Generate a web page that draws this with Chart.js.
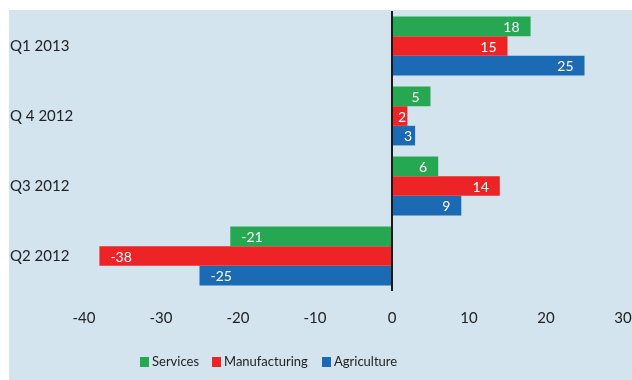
<!DOCTYPE html>
<html>
<head>
<meta charset="utf-8">
<script src="https://cdn.jsdelivr.net/npm/chart.js@4"></script>
<style>
html,body{margin:0;padding:0;background:#fff;}
#wrap{width:632px;height:380px;position:relative;}
</style>
</head>
<body>
<div id="wrap"><canvas id="c" width="632" height="380"></canvas></div>
<script>
const categories = ["Q1 2013", "Q 4 2012", "Q3 2012", "Q2 2012"];
const seriesNames = ["Services", "Manufacturing", "Agriculture"];
const services = [18, 5, 6, -21];
const manufacturing = [15, 2, 14, -38];
const agriculture = [25, 3, 9, -25];
const xTicks = [-40, -30, -20, -10, 0, 10, 20, 30];
const colors = ["#26a852", "#ee2326", "#1b6ab3"];

const FONT = "Lato, 'Open Sans', sans-serif";

const bgPlugin = {
  id: 'bg',
  beforeDraw(chart) {
    const ctx = chart.ctx;
    ctx.save();
    ctx.fillStyle = '#ffffff';
    ctx.fillRect(0, 0, chart.width, chart.height);
    ctx.fillStyle = '#d3e4ee';
    ctx.fillRect(9, 10, chart.width - 9, chart.height - 10);
    ctx.restore();
  }
};

const labelPlugin = {
  id: 'barLabels',
  afterDatasetsDraw(chart) {
    const ctx = chart.ctx;
    ctx.save();
    ctx.font = "14px " + FONT;
    ctx.fillStyle = '#ffffff';
    ctx.textBaseline = 'middle';
    chart.data.datasets.forEach((ds, di) => {
      const meta = chart.getDatasetMeta(di);
      meta.data.forEach((bar, i) => {
        const v = ds.data[i];
        const txt = String(v);
        const w = ctx.measureText(txt).width;
        const len = Math.abs(bar.x - bar.base);
        let left;
        if (v >= 0) {
          let right = bar.x - 11;
          if (len < w + 22) right = bar.x - 3;
          left = Math.max(right - w, bar.base + 5);
        } else {
          left = bar.x + 11;
        }
        ctx.textAlign = 'left';
        ctx.fillText(txt, left, bar.y + 1);
      });
    });
    ctx.restore();
  }
};

const legendPlugin = {
  id: 'customLegend',
  afterDraw(chart) {
    const ctx = chart.ctx;
    ctx.save();
    ctx.font = "13px " + FONT;
    ctx.textBaseline = 'middle';
    ctx.textAlign = 'left';
    const box = 9, gapBox = 3;
    const starts = [140, 212, 322];
    const y = 362;
    chart.data.datasets.forEach((d, i) => {
      const x = starts[i];
      ctx.fillStyle = d.backgroundColor;
      ctx.fillRect(x, y - 5, box, box + 1);
      ctx.fillStyle = '#222222';
      ctx.fillText(d.label, x + box + gapBox, y);
    });
    ctx.restore();
  }
};

new Chart(document.getElementById('c'), {
  type: 'bar',
  data: {
    labels: categories,
    datasets: [
      { label: seriesNames[0], data: services, backgroundColor: colors[0] },
      { label: seriesNames[1], data: manufacturing, backgroundColor: colors[1] },
      { label: seriesNames[2], data: agriculture, backgroundColor: colors[2] }
    ]
  },
  options: {
    indexAxis: 'y',
    responsive: false,
    animation: false,
    devicePixelRatio: 1,
    categoryPercentage: 0.84,
    barPercentage: 1.0,
    layout: { padding: { left: 10, top: 11, right: 9, bottom: 0 } },
    plugins: {
      legend: { display: false },
      tooltip: { enabled: false }
    },
    scales: {
      x: {
        min: -40, max: 30,
        afterBuildTicks(scale) { scale.ticks = xTicks.map(v => ({ value: v })); },
        border: { display: false },
        grid: {
          drawTicks: false,
          lineWidth: 2,
          color: ctx => (ctx.tick && ctx.tick.value === 0) ? '#1a1a1a' : 'rgba(0,0,0,0)'
        },
        ticks: { font: { size: 15, family: FONT }, color: '#222222', padding: 18, maxRotation: 0 },
        afterFit(scale) { scale.height = 89; scale.paddingLeft = 0; scale.paddingRight = 0; }
      },
      y: {
        border: { display: false },
        grid: { display: false, drawTicks: false },
        ticks: { font: { size: 15, family: FONT }, color: '#222222', crossAlign: 'far', padding: 0 },
        afterFit(scale) { scale.width = 74; scale.paddingTop = 0; scale.paddingBottom = 0; }
      }
    }
  },
  plugins: [bgPlugin, labelPlugin, legendPlugin]
});
</script>
</body>
</html>
